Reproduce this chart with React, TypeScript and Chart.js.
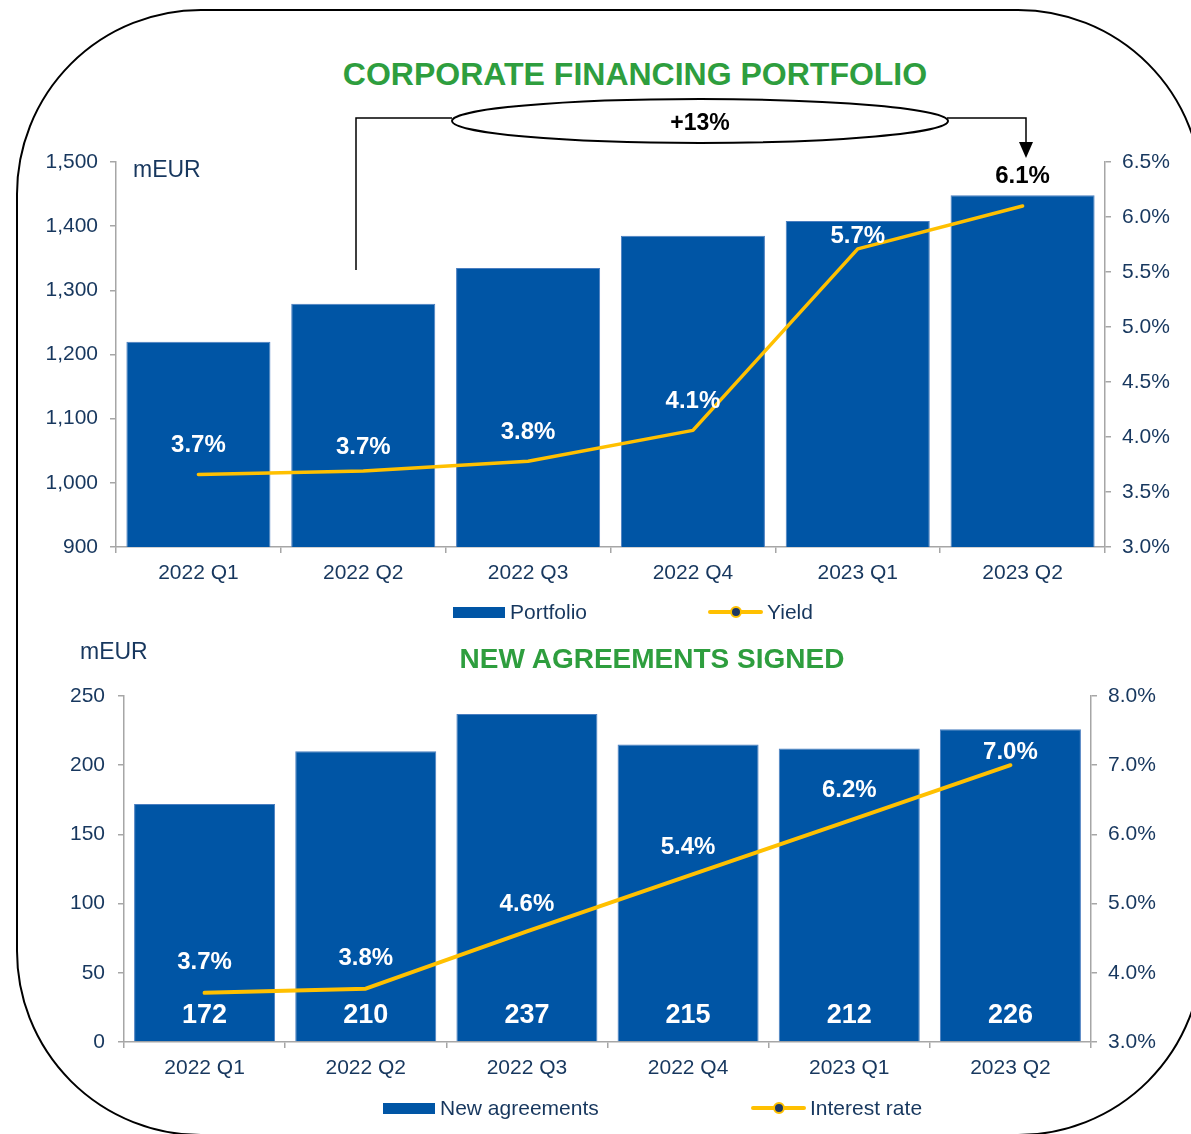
import React, { useEffect, useRef } from 'react';
import { Chart, registerables } from 'chart.js';

Chart.register(...registerables);

const FONT = '"Liberation Sans", Arial, sans-serif';
const NAVY = '#17375E';
const BLUE = '#0055A5';
const YELLOW = '#FFC000';
const GREEN = '#2E9E3E';
const GRAY = '#A6A6A6';

// ---------- data ----------
const categories = ['2022 Q1', '2022 Q2', '2022 Q3', '2022 Q4', '2023 Q1', '2023 Q2'];
const portfolio = [1220, 1279, 1335, 1385, 1408, 1448];
const yieldPct = [3.66, 3.69, 3.78, 4.06, 5.71, 6.1];
const newAgreements = [172, 210, 237, 215, 212, 226];
const interestRate = [3.71, 3.77, 4.6, 5.4, 6.2, 7.0];

const portfolioAxis = [900, 1500, 100];
const yieldAxis = [3.0, 6.5, 0.5];
const agreementsAxis = [0, 250, 50];
const rateAxis = [3.0, 8.0, 1.0];

const growthLabel = '+13%';

// label lift above each line point (style)
const yieldLabelLift = [29, 24, 29, 29, 13, 30];
const rateLabelLift = [30, 30, 27, 29, 30, 13];

const labelPlugin = {
  id: 'valueLabels',
  afterDatasetsDraw(chart: any, _args: any, opts: any) {
    const { ctx } = chart;
    const barMeta = chart.getDatasetMeta(0);
    const lineMeta = chart.getDatasetMeta(1);
    const barData = chart.data.datasets[0].data;
    const lineData = chart.data.datasets[1].data;
    ctx.save();
    ctx.textAlign = 'center';
    ctx.textBaseline = 'middle';
    ctx.font = `bold ${opts.barFont}px ${FONT}`;
    ctx.fillStyle = '#ffffff';
    barMeta.data.forEach((el: any, i: number) => {
      ctx.fillText(Number(barData[i]).toLocaleString('en-US'), el.x, el.base - opts.barLift);
    });
    ctx.font = `bold ${opts.lineFont}px ${FONT}`;
    lineMeta.data.forEach((pt: any, i: number) => {
      const y = pt.y - opts.lift[i];
      const barTop = barMeta.data[i].y;
      ctx.fillStyle = y < barTop ? '#000000' : '#ffffff';
      ctx.fillText(Number(lineData[i]).toFixed(1) + '%', barMeta.data[i].x, y);
    });
    ctx.restore();
  },
};

type ComboProps = {
  top: number;
  height: number;
  padTop: number;
  leftW: number;
  rightW: number;
  xH: number;
  bars: number[];
  line: number[];
  leftAxis: number[];
  rightAxis: number[];
  leftFmt: (v: number) => string;
  barPct: number;
  lineW: number;
  barFont: number;
  barLift: number;
  lift: number[];
  leftPad: number;
  rightPad: number;
  xPad: number;
};

function ComboChart(p: ComboProps) {
  const ref = useRef<HTMLCanvasElement>(null);
  useEffect(() => {
    if (!ref.current) return;
    const tickFont = { family: FONT, size: 21 };
    const chart = new Chart(ref.current, {
      type: 'bar',
      data: {
        labels: categories,
        datasets: [
          {
            type: 'bar',
            data: p.bars,
            backgroundColor: BLUE,
            borderColor: '#4A7EC0',
            borderWidth: 1,
            barPercentage: p.barPct,
            categoryPercentage: 1,
            yAxisID: 'y',
            order: 2,
          } as any,
          {
            type: 'line',
            data: p.line,
            borderColor: YELLOW,
            borderWidth: p.lineW,
            pointRadius: 0,
            tension: 0,
            borderCapStyle: 'round',
            borderJoinStyle: 'round',
            yAxisID: 'y1',
            order: 1,
          } as any,
        ],
      },
      options: {
        animation: false,
        responsive: false,
        layout: { padding: { top: p.padTop, left: 0, right: 0, bottom: 0 } },
        plugins: {
          legend: { display: false },
          tooltip: { enabled: false },
          valueLabels: { barFont: p.barFont, lineFont: 24, barLift: p.barLift, lift: p.lift },
        } as any,
        scales: {
          x: {
            offset: true,
            grid: { display: true, offset: true, drawOnChartArea: false, drawTicks: true, tickLength: 6, color: GRAY, lineWidth: 1.5 },
            border: { display: true, color: GRAY, width: 1.5 },
            ticks: { color: NAVY, font: tickFont, padding: p.xPad, maxRotation: 0, autoSkip: false },
            afterFit: (s: any) => { s.height = p.xH; },
          },
          y: {
            position: 'left',
            min: p.leftAxis[0],
            max: p.leftAxis[1],
            grid: { drawOnChartArea: false, drawTicks: true, tickLength: 6, color: GRAY, lineWidth: 1.5 },
            border: { display: true, color: GRAY, width: 1.5 },
            ticks: { stepSize: p.leftAxis[2], color: NAVY, font: tickFont, padding: p.leftPad, callback: (v: any) => p.leftFmt(Number(v)) },
            afterFit: (s: any) => { s.width = p.leftW; },
          },
          y1: {
            position: 'right',
            min: p.rightAxis[0],
            max: p.rightAxis[1],
            grid: { drawOnChartArea: false, drawTicks: true, tickLength: 6, color: GRAY, lineWidth: 1.5 },
            border: { display: true, color: GRAY, width: 1.5 },
            ticks: { stepSize: p.rightAxis[2], color: NAVY, font: tickFont, padding: p.rightPad, callback: (v: any) => Number(v).toFixed(1) + '%' },
            afterFit: (s: any) => { s.width = p.rightW; },
          },
        },
      } as any,
      plugins: [labelPlugin],
    });
    return () => chart.destroy();
  }, []);
  return (
    <div style={{ position: 'absolute', left: 0, top: p.top, width: 1191, height: p.height }}>
      <canvas ref={ref} width={1191} height={p.height} style={{ display: 'block' }} />
    </div>
  );
}

const textBase: React.CSSProperties = { position: 'absolute', fontFamily: FONT, whiteSpace: 'nowrap' };

function LegendBar({ x, y, text }: { x: number; y: number; text: string }) {
  return (
    <>
      <div style={{ position: 'absolute', left: x, top: y - 5, width: 52, height: 11, background: BLUE }} />
      <div style={{ ...textBase, left: x + 57, top: y - 13, lineHeight: '26px', fontSize: 21, color: NAVY }}>{text}</div>
    </>
  );
}

function LegendLine({ x, y, text }: { x: number; y: number; text: string }) {
  return (
    <>
      <div style={{ position: 'absolute', left: x, top: y - 2, width: 55, height: 4, borderRadius: 2, background: YELLOW }} />
      <div style={{ position: 'absolute', left: x + 22, top: y - 6, width: 8, height: 8, borderRadius: 6, background: '#1F3864', border: `2px solid ${YELLOW}` }} />
      <div style={{ ...textBase, left: x + 59, top: y - 13, lineHeight: '26px', fontSize: 21, color: NAVY }}>{text}</div>
    </>
  );
}

export default function App() {
  return (
    <div style={{ position: 'absolute', left: 0, top: 0, width: 1191, height: 1134, overflow: 'hidden', background: '#fff' }}>
      <div style={{ position: 'absolute', left: 16, top: 9, width: 1187, height: 1127, border: '2px solid #000', borderRadius: 185, boxSizing: 'border-box' }} />

      <div style={{ ...textBase, left: 235, width: 800, textAlign: 'center', top: 54, lineHeight: '40px', fontSize: 32, fontWeight: 'bold', color: GREEN }}>
        CORPORATE FINANCING PORTFOLIO
      </div>

      <ComboChart
        top={130} height={480} padTop={32} leftW={116} rightW={86} xH={63}
        bars={portfolio} line={yieldPct} leftAxis={portfolioAxis} rightAxis={yieldAxis}
        leftFmt={(v) => v.toLocaleString('en-US')}
        barPct={0.874} lineW={3.5} barFont={26} barLift={26} lift={yieldLabelLift}
        leftPad={12} rightPad={11} xPad={8}
      />

      <div style={{ ...textBase, left: 133, top: 155, lineHeight: '28px', fontSize: 23, color: NAVY }}>mEUR</div>

      <svg width={1191} height={1134} style={{ position: 'absolute', left: 0, top: 0, pointerEvents: 'none' }}>
        <path d="M356 270 V118 H452" fill="none" stroke="#000" strokeWidth={1.5} />
        <path d="M947 118 H1026 V144" fill="none" stroke="#000" strokeWidth={1.5} />
        <polygon points="1019,142 1033,142 1026,158" fill="#000" />
        <ellipse cx={700} cy={121} rx={248} ry={22} fill="#fff" stroke="#000" strokeWidth={2} />
        <text x={700} y={122} textAnchor="middle" dominantBaseline="central" fontFamily={FONT} fontWeight="bold" fontSize={23} fill="#000">{growthLabel}</text>
      </svg>

      <LegendBar x={453} y={612} text="Portfolio" />
      <LegendLine x={708} y={612} text="Yield" />

      <ComboChart
        top={656} height={444} padTop={40} leftW={124} rightW={100} xH={58}
        bars={newAgreements} line={interestRate} leftAxis={agreementsAxis} rightAxis={rateAxis}
        leftFmt={(v) => String(v)}
        barPct={0.875} lineW={4} barFont={27} barLift={26} lift={rateLabelLift}
        leftPad={13} rightPad={11} xPad={8}
      />

      <div style={{ ...textBase, left: 80, top: 637, lineHeight: '28px', fontSize: 23, color: NAVY }}>mEUR</div>
      <div style={{ ...textBase, left: 252, width: 800, textAlign: 'center', top: 642, lineHeight: '34px', fontSize: 28, fontWeight: 'bold', color: GREEN }}>
        NEW AGREEMENTS SIGNED
      </div>

      <LegendBar x={383} y={1108} text="New agreements" />
      <LegendLine x={751} y={1108} text="Interest rate" />
    </div>
  );
}
